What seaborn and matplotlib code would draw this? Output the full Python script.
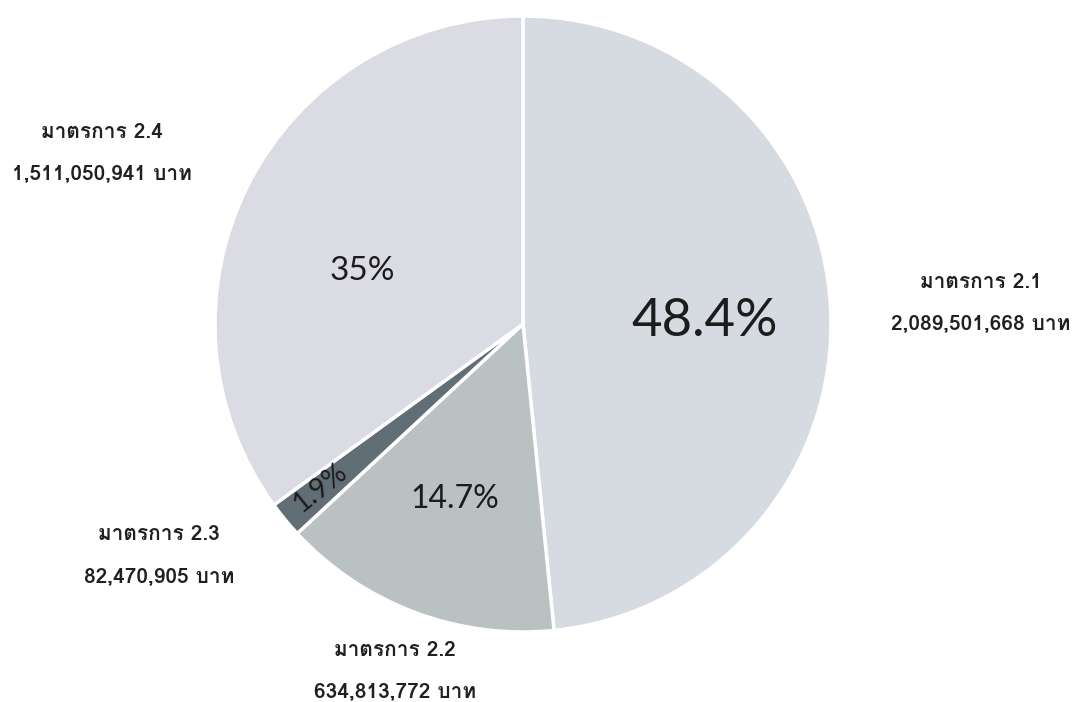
import matplotlib
matplotlib.use("Agg")
import matplotlib.pyplot as plt
import seaborn as sns

# data
measures = ["มาตรการ 2.1", "มาตรการ 2.2", "มาตรการ 2.3", "มาตรการ 2.4"]
budgets = [2089501668, 634813772, 82470905, 1511050941]
colors = ["#d6dbe2", "#b9c1c3", "#626e75", "#dbdce3"]

sns.set_style("white")
thai_font = ['Loma', 'DejaVu Sans']
pct_font = ['Lato', 'DejaVu Sans']

W, H = 1078, 702
fig = plt.figure(figsize=(W / 100, H / 100), dpi=100)
ax = fig.add_axes([0, 0, 1, 1])

# pie, clockwise from 12 o'clock
wedges, _ = ax.pie(budgets, colors=colors, startangle=90, counterclock=False,
                   center=(523, H - 324), radius=308,
                   wedgeprops=dict(edgecolor='white', linewidth=2.5), frame=True)
ax.set_xlim(0, W)
ax.set_ylim(0, H)
ax.axis('off')

total = sum(budgets)
pcts = [100 * b / total for b in budgets]

def fmt_pct(p):
    s = f"{p:.1f}"
    if s.endswith(".0"):
        s = s[:-2]
    return s + "%"

# percentage labels inside the slices (pixel positions, y from top)
pct_pos = [(705, 322), (455, 499), (320, 488), (362, 271)]
pct_size = [38, 23, 20, 24]
pct_rot = [0, 0, 39, 0]
for p, (x, y), fs, rot in zip(pcts, pct_pos, pct_size, pct_rot):
    ax.text(x, H - y, fmt_pct(p), ha='center', va='center', fontsize=fs,
            rotation=rot, color='#1c1c1c', family=pct_font)

# outside labels: name + amount in baht
lab_pos = [(981, 282), (395, 650), (159, 535), (102, 132)]
for name, val, (x, y) in zip(measures, budgets, lab_pos):
    ax.text(x, H - y, name, ha='center', va='center', fontsize=15,
            color='#202020', family=thai_font, weight='bold')
    ax.text(x, H - y - 42, f"{val:,} บาท", ha='center', va='center',
            fontsize=15, color='#202020', family=thai_font, weight='bold')

fig.savefig("out.png", dpi=100)
